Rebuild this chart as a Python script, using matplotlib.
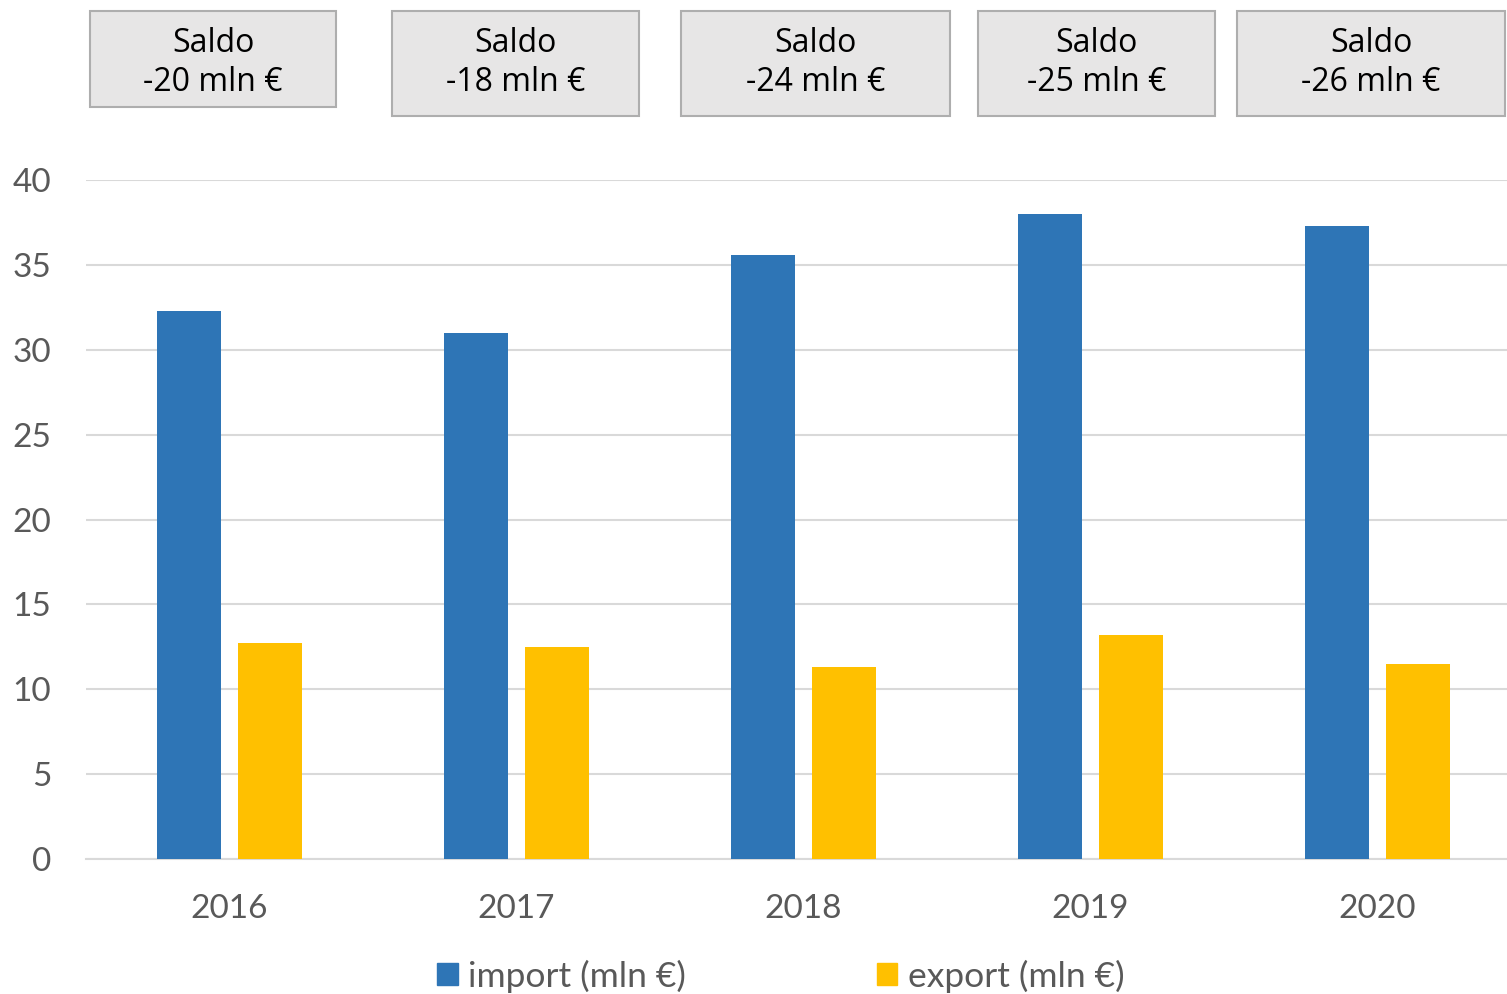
import numpy as np
import matplotlib
matplotlib.use("Agg")
import matplotlib.pyplot as plt
from matplotlib.patches import Rectangle, Patch

# data
years = ["2016", "2017", "2018", "2019", "2020"]
import_vals = [32.3, 31.0, 35.6, 38.0, 37.3]
export_vals = [12.7, 12.5, 11.3, 13.2, 11.5]
saldo = [-20, -18, -24, -25, -26]

blue = "#2E75B6"
yellow = "#FFC000"
grey_txt = "#595959"
grid_col = "#D9D9D9"

W, H = 1507, 994
fig = plt.figure(figsize=(W / 100, H / 100), dpi=100)
ax = fig.add_axes([86 / W, (H - 859) / H, (W - 86) / W, (859 - 180) / H])

x = np.arange(len(years))
bw = 0.223
ax.bar(x - 0.14, import_vals, bw, color=blue, label="import (mln €)", zorder=3)
ax.bar(x + 0.14, export_vals, bw, color=yellow, label="export (mln €)", zorder=3)

ax.set_xlim(-0.5, 4.451)
ax.set_ylim(0, 40)
ax.set_yticks(range(0, 41, 5))
ax.set_xticks(x)
ax.set_xticklabels(years)
ax.grid(axis="y", color=grid_col, linewidth=1.5, zorder=0)
for s in ["top", "right", "left"]:
    ax.spines[s].set_visible(False)
ax.spines["bottom"].set_color(grid_col)
ax.spines["bottom"].set_linewidth(1.5)
ax.tick_params(length=0, labelsize=24, labelcolor=grey_txt)
ax.tick_params(axis="x", pad=25)
ax.tick_params(axis="y", pad=25)
for lab in ax.get_xticklabels() + ax.get_yticklabels():
    lab.set_fontfamily("Lato")

# saldo boxes (left, right, top, bottom in pixels)
boxes = [(90, 336, 11, 107), (392, 639, 11, 116), (681, 950, 11, 116),
         (978, 1215, 11, 116), (1237, 1505, 11, 116)]
for (l, r, t, b), s in zip(boxes, saldo):
    fig.patches.append(Rectangle((l / W, 1 - b / H), (r - l) / W, (b - t) / H,
                                 transform=fig.transFigure, facecolor="#E7E6E6",
                                 edgecolor="#AEAEAE", linewidth=1.5))
    fig.text((l + r) / 2 / W, 1 - 63 / H, f"Saldo\n{s} mln €", ha="center",
             va="center", fontsize=23, family="Open Sans", linespacing=1.22,
             color="black")

handles = [Patch(color=blue), Patch(color=yellow)]
leg = fig.legend(handles, ["import (mln €)", "export (mln €)"], loc="center",
                 bbox_to_anchor=(781 / W, 1 - 976 / H), ncol=2, frameon=False,
                 prop={"family": "Lato", "size": 25.5}, handlelength=0.57,
                 handleheight=0.57, handletextpad=0.3, columnspacing=5.4)
for t in leg.get_texts():
    t.set_color(grey_txt)

fig.savefig("out.png", dpi=100)
